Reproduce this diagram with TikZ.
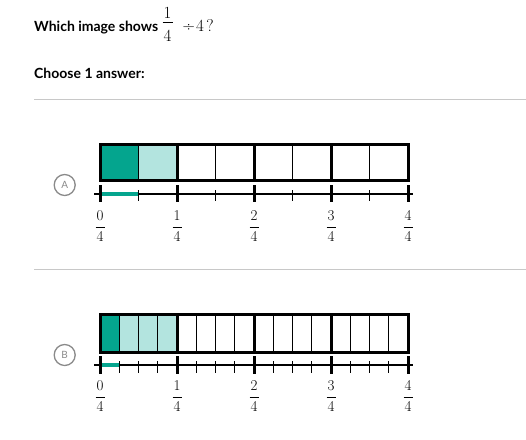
\documentclass[tikz,border=0pt]{standalone}
\usepackage{fontspec}
\setmainfont{Lato}
\newfontfamily\lmr{Latin Modern Roman}
\definecolor{tealdark}{HTML}{04A58E}
\definecolor{teallight}{HTML}{B3E4DF}
\definecolor{sepgray}{HTML}{C8C8C8}
\definecolor{circgray}{HTML}{8A8A8A}
\begin{document}
\begin{tikzpicture}[x=1pt,y=-1pt,
  qtext/.style={anchor=base west,inner sep=0pt,font=\fontsize{14}{16}\selectfont\bfseries},
  bigdig/.style={inner sep=0pt,font=\fontsize{17}{19}\selectfont\lmr},
  dig/.style={inner sep=0pt,font=\fontsize{15}{17}\selectfont\lmr},
  fracbar/.style={line width=0.75pt},
  sep/.style={draw=sepgray,line width=0.8pt},
  optcirc/.style={circle,draw=circgray,line width=1.3pt,minimum size=21pt,inner sep=0pt,text=circgray,font=\fontsize{10}{12}\selectfont},
  thin/.style={line width=1.3pt},
  thick3/.style={line width=3pt},
  axis/.style={line width=2pt},
  majortick/.style={line width=3pt},
  minortick/.style={line width=1.2pt},
  seg/.style={draw=tealdark,line width=4pt}]
\useasboundingbox (0,0) rectangle (526,439);
% question
\node[qtext] (q) at (34,31) {Which image shows};
\node[bigdig] (qn) at (167.5,13) {1};
\draw[fracbar] (162.5,22.5) -- (172.5,22.5);
\node[bigdig] (qd) at (167.5,36) {4};
\node[bigdig,anchor=base] (qdiv) at (188.7,31) {÷};
\node[bigdig,anchor=base] (q4) at (200,31) {4};
\node[bigdig,anchor=base] (qq) at (210,31) {?};
\node[qtext] (ch) at (34,78) {Choose 1 answer:};
\draw[sep] (34,99) -- (526,99);
\draw[sep] (34,269) -- (526,269);
% ---------- Option A ----------
\node[optcirc] (ca) at (64.7,185) {A};
\fill[tealdark] (100,144) rectangle (138.5,180);
\fill[teallight] (138.5,144) rectangle (177,180);
\foreach \i in {1,3,5,7} \draw[thin] ({100+38.5*\i},144) -- ({100+38.5*\i},180);
\foreach \i in {2,4,6} \draw[thick3] ({100+38.5*\i},144) -- ({100+38.5*\i},180);
\draw[thick3] (100,144) rectangle (408,180);
\coordinate (al) at (94,193.5);
\coordinate (ar) at (413,193.5);
\draw[axis] (al) -- (ar);
\coordinate (as0) at (100,193.5);
\coordinate (as1) at (138.5,193.5);
\draw[seg] (as0) -- (as1);
\foreach \i in {1,3,5,7} \draw[minortick] ({100+38.5*\i},190) -- ({100+38.5*\i},201);
\foreach \i/\n in {0/0,2/1,4/2,6/3,8/4} {
  \draw[majortick] ({100+38.5*\i},185) -- ({100+38.5*\i},202);
  \node[dig] (fan\n) at ({100+38.5*\i},215.5) {\n};
  \draw[fracbar] ({100+38.5*\i-4.5},227) -- ({100+38.5*\i+4.5},227);
  \node[dig] (fad\n) at ({100+38.5*\i},236.5) {4};
}
% ---------- Option B ----------
\node[optcirc] (cb) at (64.7,355) {B};
\fill[tealdark] (100,314) rectangle (119.25,352);
\fill[teallight] (119.25,314) rectangle (177,352);
\foreach \i in {1,2,3,5,6,7,9,10,11,13,14,15} \draw[thin] ({100+19.25*\i},314) -- ({100+19.25*\i},352);
\foreach \i in {4,8,12} \draw[thick3] ({100+19.25*\i},314) -- ({100+19.25*\i},352);
\draw[thick3] (100,314) rectangle (408,352);
\coordinate (bl) at (94,365);
\coordinate (br) at (413,365);
\draw[axis] (bl) -- (br);
\coordinate (bs0) at (100,365);
\coordinate (bs1) at (119.25,365);
\draw[seg] (bs0) -- (bs1);
\foreach \i in {1,2,3,5,6,7,9,10,11,13,14,15} \draw[minortick] ({100+19.25*\i},361) -- ({100+19.25*\i},373);
\foreach \i/\n in {0/0,4/1,8/2,12/3,16/4} {
  \draw[majortick] ({100+19.25*\i},356) -- ({100+19.25*\i},374);
  \node[dig] (fbn\n) at ({100+19.25*\i},385.5) {\n};
  \draw[fracbar] ({100+19.25*\i-4.5},397) -- ({100+19.25*\i+4.5},397);
  \node[dig] (fbd\n) at ({100+19.25*\i},406.5) {4};
}
\end{tikzpicture}
\end{document}
